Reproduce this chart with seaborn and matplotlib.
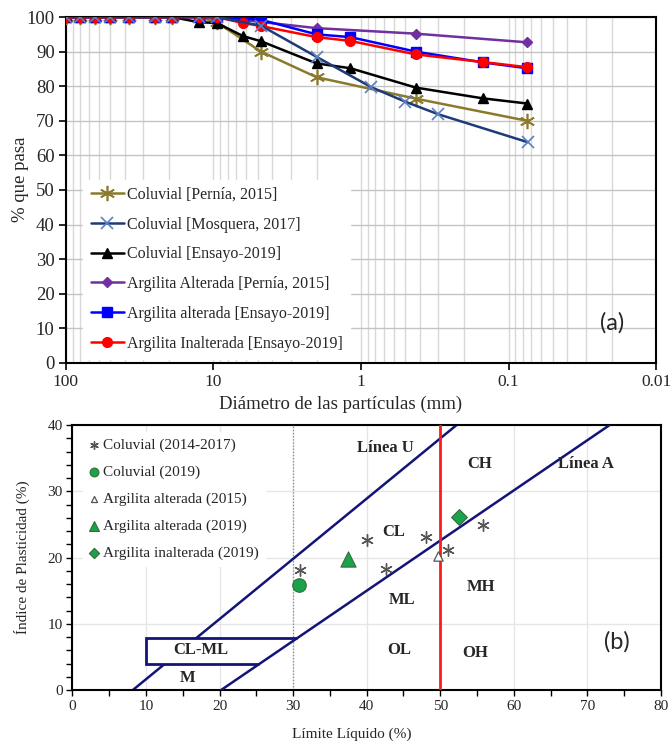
import numpy as np
import pandas as pd
import matplotlib
matplotlib.use("Agg")
import matplotlib.pyplot as plt
import seaborn as sns
from matplotlib.patches import Polygon
from matplotlib.ticker import MultipleLocator, FixedLocator, NullFormatter, LogLocator, FixedFormatter

# ---------------- data: (a) grain size distribution ----------------
col_pernia_d = [100, 80, 63, 50, 37.5, 25, 19, 12.5, 9.5, 4.75, 2.0, 0.425, 0.075]
col_pernia_p = [100, 100, 100, 100, 100, 100, 100, 100, 98.5, 90.0, 82.6, 76.4, 70.0]

col_mosq_d = [100, 80, 63, 50, 37.5, 25, 19, 12.5, 9.5, 4.75, 2.0, 0.85, 0.5, 0.3, 0.074]
col_mosq_p = [100, 100, 100, 100, 100, 100, 100, 100, 100, 97.5, 88.5, 79.7, 75.5, 71.9, 63.8]

col_ens_d = [100, 80, 63, 50, 37.5, 25, 19, 12.5, 9.5, 6.3, 4.75, 2.0, 1.18, 0.425, 0.15, 0.075]
col_ens_p = [100, 100, 100, 100, 100, 100, 100, 98.5, 98.3, 94.5, 93.0, 86.6, 85.2, 79.6, 76.5, 75.0]

arg_pernia_d = [100, 80, 63, 50, 37.5, 25, 19, 12.5, 9.5, 2.0, 0.425, 0.075]
arg_pernia_p = [100, 100, 100, 100, 100, 100, 100, 100, 100, 96.8, 95.2, 92.7]

arg_alt_d = [100, 80, 63, 50, 37.5, 25, 19, 12.5, 9.5, 6.3, 4.75, 2.0, 1.18, 0.425, 0.15, 0.075]
arg_alt_p = [100, 100, 100, 100, 100, 100, 100, 100, 100, 99.6, 99.2, 95.0, 94.2, 90.0, 86.9, 85.2]

arg_inalt_d = [100, 80, 63, 50, 37.5, 25, 19, 12.5, 9.5, 6.3, 4.75, 2.0, 1.18, 0.425, 0.15, 0.075]
arg_inalt_p = [100, 100, 100, 100, 100, 100, 100, 100, 100, 98.3, 97.4, 94.2, 93.1, 89.2, 87.0, 85.5]

x_ticks_a = [100, 10, 1, 0.1, 0.01]
x_ticklabels_a = ["100", "10", "1", "0.1", "0.01"]

# ---------------- data: (b) plasticity chart ----------------
col_1417_ll = [31.0, 40.1, 42.6, 48.1, 51.0, 55.8]
col_1417_pi = [18.2, 22.6, 18.3, 23.1, 21.2, 24.9]
col_2019_ll = [30.8]
col_2019_pi = [15.8]
alt_2015_ll = [49.7]
alt_2015_pi = [20.2]
alt_2019_ll = [37.4]
alt_2019_pi = [19.8]
inalt_2019_ll = [52.6]
inalt_2019_pi = [26.2]

a_line_ll = [20.2, 73.0]
a_line_pi = [0.0, 40.0]
u_line_ll = [8.2, 52.2]
u_line_pi = [0.0, 40.0]
clml_ll = [25.4, 10.0, 10.0, 30.5]
clml_pi = [4.0, 4.0, 7.8, 7.8]

zone_labels = ["Línea U", "Línea A", "CH", "CL", "ML", "MH", "OL", "OH", "CL-ML", "M"]
zone_ll = [42.5, 69.8, 55.3, 43.7, 44.8, 55.6, 44.4, 54.8, 17.5, 15.7]
zone_pi = [36.5, 34.1, 34.1, 23.8, 13.6, 15.6, 6.1, 5.6, 6.0, 1.8]

# ---------------- style ----------------
sns.set_style("white")
plt.rcParams['font.family'] = ['Liberation Serif', 'DejaVu Serif']
plt.rcParams['mathtext.fontset'] = 'stix'

fig = plt.figure(figsize=(6.71, 7.42), dpi=100)
ax1 = fig.add_axes([0.098, 0.511, 0.880, 0.466])
ax2 = fig.add_axes([0.108, 0.070, 0.877, 0.357])

# ================= panel (a) =================
ax1.set_xscale('log')

def draw(d, p, color, marker, ms, label, mfc=None, mec=None, mew=1.0, z=3):
    sns.lineplot(x=d, y=p, ax=ax1, color=color, marker=marker, markersize=ms,
                 markerfacecolor=mfc if mfc else color,
                 markeredgecolor=mec if mec else color,
                 markeredgewidth=mew, linewidth=1.8, label=label,
                 estimator=None, sort=False, zorder=z)

draw(col_pernia_d, col_pernia_p, '#8c7a2c', (6, 2, 0), 11, "Coluvial [Pernía, 2015]", mew=1.2, z=3)
draw(col_mosq_d, col_mosq_p, '#1f3a78', 'x', 9, "Coluvial [Mosquera, 2017]", mec='#5b7fc2', mfc='#5b7fc2', mew=1.2, z=6)
draw(col_ens_d, col_ens_p, 'black', '^', 7, "Coluvial [Ensayo-2019]", z=4)
draw(arg_pernia_d, arg_pernia_p, '#7030a0', 'D', 5, "Argilita Alterada [Pernía, 2015]", z=3)
draw(arg_alt_d, arg_alt_p, '#0000ff', 's', 6.5, "Argilita alterada [Ensayo-2019]", z=4)
draw(arg_inalt_d, arg_inalt_p, '#ff0000', 'o', 7, "Argilita Inalterada [Ensayo-2019]", z=5)

ax1.set_xlim(100, 0.01)
ax1.set_ylim(0, 100)
ax1.xaxis.set_major_locator(FixedLocator(x_ticks_a))
ax1.xaxis.set_major_formatter(FixedFormatter(x_ticklabels_a))
ax1.xaxis.set_minor_locator(LogLocator(base=10, subs=np.arange(2, 10), numticks=20))
ax1.xaxis.set_minor_formatter(NullFormatter())
ax1.yaxis.set_major_locator(MultipleLocator(10))
ax1.grid(True, which='major', axis='y', color='#c4c4c4', lw=1.0, zorder=0)
ax1.grid(True, which='both', axis='x', color='#d8d8d8', lw=1.0, zorder=0)
ax1.set_axisbelow(True)
ax1.tick_params(axis='both', which='major', direction='out', length=5, width=1.2,
                labelsize=13.5, color='black', pad=3)
ax1.tick_params(axis='x', which='major', labelsize=12.5)
ax1.tick_params(axis='x', which='minor', direction='in', length=4, width=0.8, color='#999999')
ax1.tick_params(bottom=True, left=True, top=False, right=False)
for s in ax1.spines.values():
    s.set_color('black')
    s.set_linewidth(1.5)
ax1.set_xlabel("Diámetro de las partículas (mm)", fontsize=13.5, labelpad=2)
ax1.set_ylabel("% que pasa", fontsize=13.5, labelpad=4)
ax1.xaxis.set_label_coords(0.465, -0.095)
ax1.yaxis.set_label_coords(-0.062, 0.53)

leg1 = ax1.legend(loc='lower left', bbox_to_anchor=(0.03, 0.012), frameon=True,
                  fancybox=False, framealpha=1, facecolor='white', edgecolor='white',
                  fontsize=11.5, handlelength=2.1, handletextpad=0.15, labelspacing=0.86,
                  borderaxespad=0, borderpad=0.45)
ax1.text(0.02, 11.5, "(a)", fontsize=17, family=['Lato', 'DejaVu Sans'], ha='center', va='center')

# ================= panel (b) =================
ax2.set_xlim(0, 80)
ax2.set_ylim(0, 40)
ax2.xaxis.set_major_locator(MultipleLocator(10))
ax2.xaxis.set_minor_locator(MultipleLocator(5))
ax2.yaxis.set_major_locator(MultipleLocator(10))
ax2.yaxis.set_minor_locator(MultipleLocator(2))
ax2.grid(True, which='major', color='#e6e6e6', lw=1.0, zorder=0)
ax2.set_axisbelow(True)
ax2.axvline(30, color='#888888', lw=0.9, ls=(0, (1, 1.5)), zorder=1)

ax2.plot(u_line_ll, u_line_pi, color='#141478', lw=1.8, zorder=2)
ax2.add_patch(Polygon(list(zip(clml_ll, clml_pi)), closed=False, facecolor='white',
                      edgecolor='#141478', lw=2.0, zorder=3))
ax2.plot(a_line_ll, a_line_pi, color='#141478', lw=1.8, zorder=4)
ax2.axvline(50, color='#ff1a1a', lw=2.0, zorder=4)

sns.scatterplot(x=col_1417_ll, y=col_1417_pi, ax=ax2, marker=(6, 2, 0), s=70,
                color='#555555', linewidth=1.0, label="Coluvial (2014-2017)", zorder=6)
sns.scatterplot(x=col_2019_ll, y=col_2019_pi, ax=ax2, marker='o', s=95,
                color='#1aa34a', edgecolor='#3a6a3a', linewidth=0.8, label="Coluvial (2019)", zorder=6)
sns.scatterplot(x=alt_2015_ll, y=alt_2015_pi, ax=ax2, marker='^', s=45,
                color='white', edgecolor='#555555', linewidth=0.9, label="Argilita alterada (2015)", zorder=6)
sns.scatterplot(x=alt_2019_ll, y=alt_2019_pi, ax=ax2, marker='^', s=120,
                color='#1aa34a', edgecolor='#3a6a3a', linewidth=0.8, label="Argilita alterada (2019)", zorder=6)
sns.scatterplot(x=inalt_2019_ll, y=inalt_2019_pi, ax=ax2, marker='D', s=65,
                color='#1aa34a', edgecolor='#3a6a3a', linewidth=0.8, label="Argilita inalterada (2019)", zorder=6)

for lab, xx, yy in zip(zone_labels, zone_ll, zone_pi):
    ax2.text(xx, yy, lab, fontsize=12, fontweight='bold', ha='center', va='center', zorder=7)
ax2.text(74.0, 7.3, "(b)", fontsize=17, family=['Lato', 'DejaVu Sans'], ha='center', va='center', zorder=7)

ax2.tick_params(axis='both', which='both', direction='out', length=4, width=1.0, color='black',
                labelsize=11, pad=3)
ax2.tick_params(bottom=True, left=True, top=False, right=False)
ax2.tick_params(axis='both', which='minor', bottom=True, left=True)
for s in ax2.spines.values():
    s.set_color('black')
    s.set_linewidth(1.5)
ax2.set_xlabel("Límite Líquido (%)", fontsize=11)
ax2.set_ylabel("Índice de Plasticidad (%)", fontsize=11)
ax2.xaxis.set_label_coords(0.475, -0.14)
ax2.yaxis.set_label_coords(-0.072, 0.5)

leg2 = ax2.legend(loc='upper left', bbox_to_anchor=(0.018, 0.975), frameon=True, fancybox=False,
                  framealpha=1, facecolor='white', edgecolor='white', fontsize=11,
                  handlelength=0.6, handletextpad=0.3, labelspacing=0.86, markerscale=0.65,
                  borderaxespad=0, borderpad=0.4)

fig.savefig("out.png", dpi=100)
